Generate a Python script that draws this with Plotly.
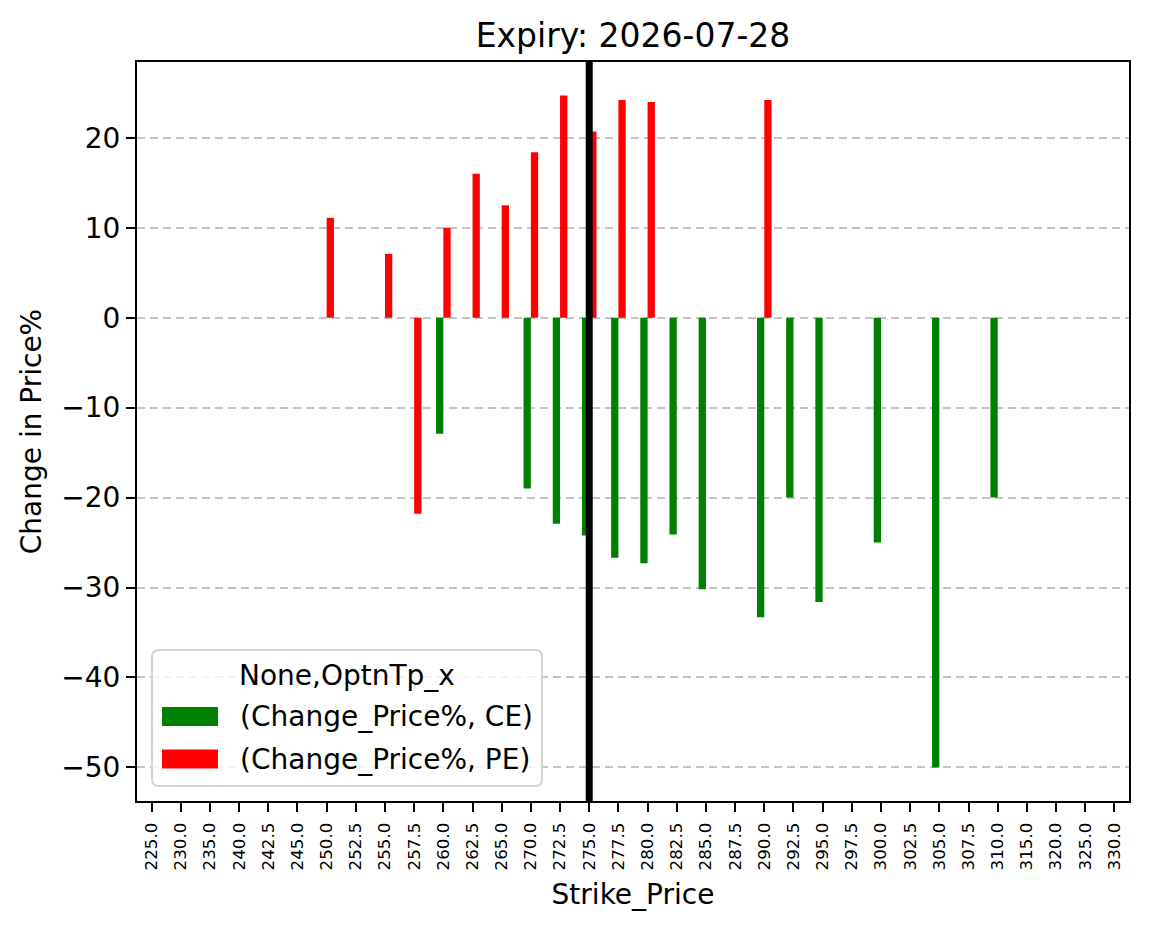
import plotly.graph_objects as go

strikes = [225.0, 230.0, 235.0, 240.0, 242.5, 245.0, 250.0, 252.5, 255.0, 257.5,
           260.0, 262.5, 265.0, 270.0, 272.5, 275.0, 277.5, 280.0, 282.5, 285.0,
           287.5, 290.0, 292.5, 295.0, 297.5, 300.0, 302.5, 305.0, 307.5, 310.0,
           315.0, 320.0, 325.0, 330.0]
ce_change = [None, None, None, None, None, None, None, None, None, None,
             -12.9, None, None, -19.0, -22.9, -24.2, -26.7, -27.3, -24.1, -30.2,
             None, -33.3, -20.0, -31.6, None, -25.0, None, -50.0, None, -20.0,
             None, None, None, None]
pe_change = [None, None, None, None, None, None, 11.1, None, 7.1, -21.8,
             10.0, 16.0, 12.5, 18.4, 24.7, 20.7, 24.2, 24.0, None, None,
             None, 24.2, None, None, None, None, None, None, None, None,
             None, None, None, None]
spot_strike = 275.0
y_ticks = [-50, -40, -30, -20, -10, 0, 10, 20]
title_text = "Expiry: 2026-07-28"
legend_title = "None,OptnTp_x"
series_names = ["(Change_Price%, CE)", "(Change_Price%, PE)"]
series_colors = ["#008000", "#ff0000"]

labels = [f"{s:.1f}" for s in strikes]
FONT = "DejaVu Sans"

# plot-area geometry (pixels)
W, H = 1149, 928
L, R, T, B = 137, 1129, 62, 801


def px(xp):
    return (xp - L) / (R - L)


def py(yp):
    return (B - yp) / (B - T)


fig = go.Figure()
for vals_, name, col in zip([ce_change, pe_change], series_names, series_colors):
    fig.add_trace(go.Bar(x=labels, y=vals_, name=name,
                         marker=dict(color=col, line=dict(width=0))))

vals = [v for v in ce_change + pe_change if v is not None]
lo, hi = min(vals), max(vals)
pad = (hi - lo) * 0.05

fig.add_shape(type="line", xref="x", yref="paper",
              x0=strikes.index(spot_strike), x1=strikes.index(spot_strike),
              y0=0, y1=1, line=dict(color="black", width=7), layer="above")

# matplotlib-style legend box (rounded)
bx0, bx1, by0, by1, rad = 152, 542, 650, 786, 7
rx = rad / (R - L)
ry = rad / (B - T)
X0, X1, Y0, Y1 = px(bx0), px(bx1), py(by1), py(by0)
path = (f"M{X0 + rx},{Y0} L{X1 - rx},{Y0} Q{X1},{Y0} {X1},{Y0 + ry} "
        f"L{X1},{Y1 - ry} Q{X1},{Y1} {X1 - rx},{Y1} "
        f"L{X0 + rx},{Y1} Q{X0},{Y1} {X0},{Y1 - ry} "
        f"L{X0},{Y0 + ry} Q{X0},{Y0} {X0 + rx},{Y0} Z")
fig.add_shape(type="path", xref="paper", yref="paper", path=path,
              fillcolor="rgba(255,255,255,0.8)", line=dict(color="#d4d4d4", width=2),
              layer="above")
fig.add_annotation(xref="paper", yref="paper", x=px((bx0 + bx1) / 2), y=py(675),
                   text=legend_title, showarrow=False, xanchor="center", yanchor="middle",
                   font=dict(size=28, family=FONT, color="black"))
for i, (name, col) in enumerate(zip(series_names, series_colors)):
    cy = 716.5 + i * 42.5
    fig.add_shape(type="rect", xref="paper", yref="paper",
                  x0=px(162), x1=px(218), y0=py(cy + 9.5), y1=py(cy - 9.5),
                  fillcolor=col, line=dict(width=0), layer="above")
    fig.add_annotation(xref="paper", yref="paper", x=px(238), y=py(cy),
                       text=name, showarrow=False, xanchor="left", yanchor="middle",
                       font=dict(size=28, family=FONT, color="black"))

fig.update_layout(
    width=W, height=H,
    margin=dict(l=L, r=W - R, t=T, b=H - B),
    paper_bgcolor="white", plot_bgcolor="white",
    barmode="group", bargap=0.5, bargroupgap=0,
    font=dict(family=FONT, color="black", size=28),
    showlegend=False,
    title=dict(text=title_text, x=0.5 * (L + R) / W, xanchor="center",
               y=1 - 35 / H, yanchor="middle", yref="container",
               font=dict(size=33, family=FONT, color="black")),
    xaxis=dict(type="category", range=[-0.5, len(strikes) - 0.5],
               showline=True, linecolor="black", linewidth=2, mirror=True,
               ticks="outside", ticklen=9, tickwidth=2, tickcolor="black",
               tickangle=-90, tickfont=dict(size=16.7, family=FONT),
               ticklabelstandoff=4,
               showgrid=False,
               title=dict(text="Strike_Price", font=dict(size=28, family=FONT), standoff=15)),
    yaxis=dict(range=[lo - pad, hi + pad], tickvals=y_ticks,
               showline=True, linecolor="black", linewidth=2, mirror=True,
               ticks="outside", ticklen=9, tickwidth=2, tickcolor="black",
               tickfont=dict(size=28, family=FONT),
               showgrid=True, gridcolor="#c4c4c4", gridwidth=1.5, griddash="8px,5px",
               zeroline=False,
               title=dict(text="Change in Price%", font=dict(size=28, family=FONT), standoff=12)),
)

fig.write_html("out.html")
